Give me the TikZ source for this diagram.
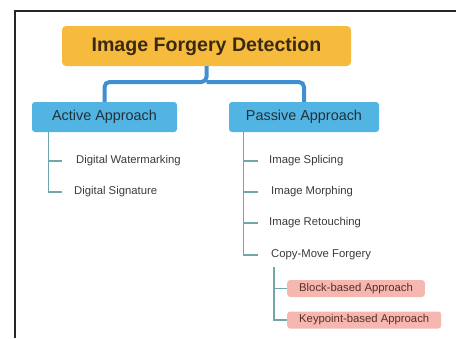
\documentclass[tikz,border=0pt]{standalone}
\usepackage{fontspec}
\setmainfont{Liberation Sans}
\definecolor{titlefill}{HTML}{F6BB3C}
\definecolor{titletext}{HTML}{3A2A14}
\definecolor{appfill}{HTML}{52B4E2}
\definecolor{apptext}{HTML}{22303A}
\definecolor{linkblue}{HTML}{3F8FD2}
\definecolor{treeline}{HTML}{6FA7AC}
\definecolor{leaftext}{HTML}{3A3A3A}
\definecolor{subfill}{HTML}{F5B7B0}
\definecolor{subtext}{HTML}{5A2E2A}
\tikzset{
  titlebox/.style={fill=titlefill, rounded corners=4pt, minimum width=289pt, minimum height=40pt,
    text=titletext, font=\fontsize{19.6}{22}\selectfont\bfseries, inner sep=0pt},
  appbox/.style={fill=appfill, rounded corners=3pt, minimum height=30pt,
    text=apptext, font=\fontsize{14.4}{16}\selectfont, inner sep=0pt},
  leaf/.style={anchor=west, inner sep=0pt, text=leaftext, font=\fontsize{11.3}{13}\selectfont},
  subbox/.style={anchor=west, fill=subfill, rounded corners=3pt, minimum height=17pt,
    inner xsep=12pt, inner ysep=0pt, text=subtext, font=\fontsize{11.3}{13}\selectfont},
  link/.style={draw=linkblue, line width=4pt, rounded corners=5pt},
  tree/.style={draw=treeline, line width=1.3pt},
}
\begin{document}
\begin{tikzpicture}[x=1pt, y=-1pt]
\useasboundingbox (0,0) rectangle (456,338);
% outer frame (open at the right and bottom)
\draw[draw=black!85, line width=1.5pt] (15,338) -- (15,11) -- (456,11);

% main boxes
\node[titlebox] (title) at (206.5,46) {Image Forgery Detection};
\node[appbox, minimum width=145pt] (active) at (104.5,117) {Active Approach};
\node[appbox, minimum width=150pt] (passive) at (304,117) {Passive Approach};

\coordinate (split) at (206.5,82);
\draw[link] (title.south) -- (split) -| (active.north);
\draw[link] (split) -| (passive.north);

% active approach leaves
\node[leaf] (dw) at (76,161) {Digital Watermarking};
\node[leaf] (ds) at (74,192) {Digital Signature};
\coordinate (atrunk) at ([xshift=17pt]active.south west);
\draw[tree] (atrunk) |- ([xshift=-12pt]ds.west);
\draw[tree] (atrunk |- dw.west) -- ([xshift=-14pt]dw.west);

% passive approach leaves
\node[leaf] (sp) at (269,161) {Image Splicing};
\node[leaf] (mo) at (271,192) {Image Morphing};
\node[leaf] (re) at (269,223) {Image Retouching};
\node[leaf] (cm) at (271,255) {Copy-Move Forgery};
\coordinate (ptrunk) at ([xshift=15pt]passive.south west);
\draw[tree] (ptrunk) |- ([xshift=-13pt]cm.west);
\foreach \n in {sp,mo,re}
  \draw[tree] (ptrunk |- \n.west) -- ++(14pt,0);

% copy-move sub-approaches
\node[subbox] (blk) at (287,288.5) {Block-based Approach};
\node[subbox] (kp) at (287,320) {Keypoint-based Approach};
\coordinate (ctrunk) at (274,267);
\draw[tree] (ctrunk) |- (kp.west);
\draw[tree] (ctrunk |- blk.west) -- (blk.west);
\end{tikzpicture}
\end{document}
